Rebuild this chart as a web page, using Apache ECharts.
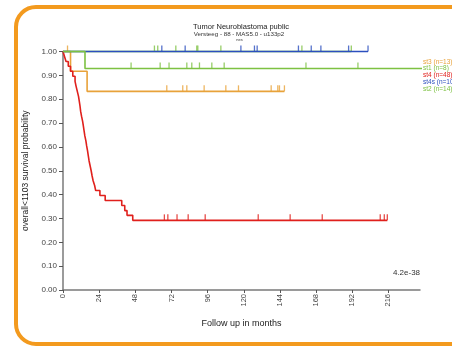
<!DOCTYPE html>
<html><head><meta charset="utf-8">
<script src="https://cdn.jsdelivr.net/npm/echarts@6/dist/echarts.min.js"></script>
<style>html,body{margin:0;padding:0;background:#fff}#c{width:452px;height:349px}</style>
</head><body><div id="c"></div>
<script>
// ---- data ----
const xTicks = [0, 24, 48, 72, 96, 120, 144, 168, 192, 216];
const groupNames = ['st3 (n=13)', 'st1 (n=8)', 'st4 (n=48)', 'st4s (n=10)', 'st2 (n=14)'];
const groupColors = ['#E8A23A', '#7DC142', '#E0201C', '#2C4FBE', '#7DC142'];

const st3Times = [0, 5, 16, 147];
const st3Surv  = [1, 0.917, 0.833, 0.833];
const st3Cens  = [3, 68.9, 79.5, 82.2, 93.7, 108.1, 116.5, 138.2, 142.6, 143.7, 147];

const st1Times = [0, 191.4];
const st1Surv  = [1, 1];
const st1Cens  = [60.7, 62.9, 74.9, 88.8, 89.5, 104.8, 158.6, 191.4];

const st4Times = [0, 1, 2, 3.5, 5, 6.5, 8, 8.7, 9.5, 10.3, 10.8, 11.3, 11.7, 12.3, 13, 13.5, 14, 14.5, 15.2, 15.7, 16.3, 16.8, 17.3, 18, 18.7, 19.3, 20, 21, 21.7, 24.5, 28, 39, 41, 42.5, 46.3, 215.3];
const st4Surv  = [1, 0.979, 0.958, 0.938, 0.917, 0.896, 0.875, 0.854, 0.833, 0.812, 0.792, 0.771, 0.750, 0.729, 0.708, 0.688, 0.667, 0.646, 0.625, 0.604, 0.583, 0.562, 0.542, 0.521, 0.500, 0.479, 0.458, 0.438, 0.417, 0.396, 0.375, 0.354, 0.333, 0.313, 0.292, 0.292];
const st4Cens  = [67.3, 69.6, 75.7, 83.1, 94.4, 129.6, 150.8, 172.1, 210.6, 213.3, 215.3];

const st4sTimes = [0, 202.5];
const st4sSurv  = [1, 1];
const st4sCens  = [65.6, 81.1, 118.1, 127.1, 128.9, 156.3, 164.8, 171.2, 189.6, 202.5];

const st2Times = [0, 14.6, 255];
const st2Surv  = [1, 0.929, 0.929];
const st2Cens  = [45.2, 64.5, 70.4, 82.2, 85.5, 90.6, 98.8, 107, 161.3, 195.8];

const pValue = '4.2e-38';
// ---------------

const groups = [
  {t: st3Times, s: st3Surv, c: st3Cens},
  {t: st1Times, s: st1Surv, c: st1Cens},
  {t: st4Times, s: st4Surv, c: st4Cens},
  {t: st4sTimes, s: st4sSurv, c: st4sCens},
  {t: st2Times, s: st2Surv, c: st2Cens}
];
function survAt(g, x) {
  let v = g.s[0];
  for (let i = 0; i < g.t.length; i++) { if (g.t[i] <= x) v = g.s[i]; }
  return v;
}
const FONT = 'Liberation Sans, Arial, sans-serif';
const series = [];
groups.forEach((g, i) => {
  series.push({
    type: 'line', step: 'end', symbol: 'none', clip: false, z: 2 + i,
    data: g.t.map((t, k) => [t, g.s[k]]),
    lineStyle: {color: groupColors[i], width: 1.6}, animation: false
  });
  series.push({
    type: 'scatter', clip: false, z: 2 + i,
    symbol: 'rect', symbolSize: [1.3, 6], symbolOffset: [0, -3],
    itemStyle: {color: groupColors[i]},
    data: g.c.map(x => [x, survAt(g, x)]), animation: false
  });
});

const chart = echarts.init(document.getElementById('c'), null, {renderer: 'canvas'});
chart.setOption({
  backgroundColor: '#fff',
  animation: false,
  grid: {left: 63, top: 51.5, width: 357, height: 238.5},
  xAxis: {
    type: 'value', min: 0, max: 237, interval: 24,
    splitLine: {show: false},
    axisLine: {lineStyle: {color: '#7a7a7a', width: 1.5}},
    axisTick: {length: 3, lineStyle: {color: '#555'}},
    axisLabel: {rotate: 90, fontSize: 7.5, color: '#444', fontFamily: FONT, margin: 4, showMaxLabel: false,
      formatter: v => (xTicks.indexOf(v) >= 0 ? String(v) : '')},
    name: 'Follow up in months', nameLocation: 'middle', nameGap: 29,
    nameTextStyle: {fontSize: 9, color: '#222', fontFamily: FONT}
  },
  yAxis: {
    type: 'value', min: 0, max: 1, interval: 0.1,
    splitLine: {show: false},
    axisLine: {show: true, lineStyle: {color: '#7a7a7a', width: 1.5}},
    axisTick: {show: true, length: 4, lineStyle: {color: '#555'}},
    axisLabel: {fontSize: 8, color: '#444', fontFamily: FONT, margin: 6, formatter: v => v.toFixed(2)},
    name: 'overall<1103 survival probability', nameLocation: 'middle', nameGap: 33,
    nameTextStyle: {fontSize: 8.5, color: '#222', fontFamily: FONT}
  },
  series: series,
  graphic: [
    {type: 'rect', shape: {x: 16, y: 7, width: 470, height: 337, r: 20}, z: -1,
      style: {fill: 'none', stroke: '#F39A1E', lineWidth: 4}},
    {type: 'text', x: 241, y: 23, style: {text: 'Tumor Neuroblastoma public', textAlign: 'center', font: '7.5px ' + FONT, fill: '#222'}},
    {type: 'text', x: 239, y: 31.5, style: {text: 'Versteeg - 88 - MAS5.0 - u133p2', textAlign: 'center', font: '6.2px ' + FONT, fill: '#333'}},
    {type: 'text', x: 239.5, y: 37.5, style: {text: 'nes', textAlign: 'center', font: '4px ' + FONT, fill: '#333'}},
    {type: 'text', x: 406.5, y: 269, style: {text: pValue, textAlign: 'center', font: '8px ' + FONT, fill: '#333'}}
  ].concat(groupNames.map((n, i) => ({
    type: 'text', x: 423, y: 58.5 + i * 6.7,
    style: {text: n, font: '6.5px ' + FONT, fill: groupColors[i]}
  })))
});
</script></body></html>
